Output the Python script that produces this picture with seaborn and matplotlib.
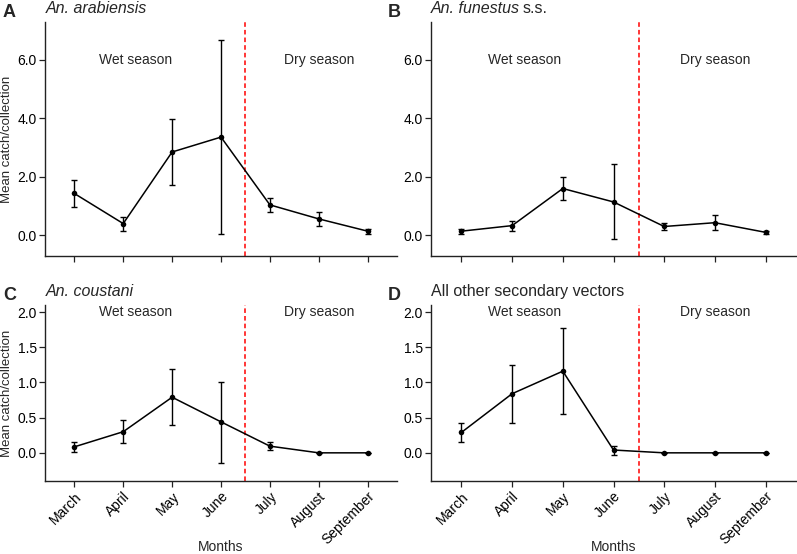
import matplotlib
matplotlib.use("Agg")
import matplotlib.pyplot as plt
import numpy as np
import pandas as pd
import seaborn as sns

months = ["March", "April", "May", "June", "July", "August", "September"]

arab_mean = [1.43, 0.40, 2.85, 3.36, 1.04, 0.56, 0.14]
arab_low = [0.97, 0.16, 1.71, 0.03, 0.78, 0.33, 0.05]
arab_high = [1.90, 0.63, 3.98, 6.67, 1.28, 0.80, 0.21]

fun_mean = [0.14, 0.33, 1.60, 1.14, 0.30, 0.43, 0.10]
fun_low = [0.05, 0.16, 1.20, -0.14, 0.18, 0.18, 0.03]
fun_high = [0.21, 0.50, 2.01, 2.43, 0.41, 0.71, 0.16]

cou_mean = [0.085, 0.30, 0.79, 0.44, 0.095, 0.0, 0.0]
cou_low = [0.014, 0.14, 0.39, -0.14, 0.04, 0.0, 0.0]
cou_high = [0.156, 0.47, 1.19, 1.01, 0.15, 0.0, 0.0]

oth_mean = [0.29, 0.84, 1.16, 0.04, 0.0, 0.0, 0.0]
oth_low = [0.15, 0.42, 0.55, -0.03, 0.0, 0.0, 0.0]
oth_high = [0.43, 1.25, 1.77, 0.10, 0.0, 0.0, 0.0]

panel_letters = ["A", "B", "C", "D"]
panel_titles = ["An. arabiensis", "An. funestus", "An. coustani", "All other secondary vectors"]
season_labels = ["Wet season", "Dry season"]
yticks_top = [0.0, 2.0, 4.0, 6.0]
yticks_bot = [0.0, 0.5, 1.0, 1.5, 2.0]

sns.set_style("ticks")
plt.rcParams["font.family"] = ["Liberation Sans", "DejaVu Sans"]

W, H = 797, 554
fig = plt.figure(figsize=(W / 100, H / 100), dpi=100)

def px_axes(left, top, right, bottom):
    return fig.add_axes([left / W, 1 - bottom / H, (right - left) / W, (bottom - top) / H])

axA = px_axes(45, 22, 397, 256)
axB = px_axes(431, 22, 796, 256)
axC = px_axes(45, 305, 397, 481)
axD = px_axes(431, 305, 796, 481)

series = [
    (axA, arab_mean, arab_low, arab_high, (-0.71, 7.3), yticks_top, 6.0),
    (axB, fun_mean, fun_low, fun_high, (-0.71, 7.3), yticks_top, 6.0),
    (axC, cou_mean, cou_low, cou_high, (-0.40, 2.10), yticks_bot, 2.0),
    (axD, oth_mean, oth_low, oth_high, (-0.40, 2.10), yticks_bot, 2.0),
]

for i, (ax, m, lo, hi, ylim, yt, ytext) in enumerate(series):
    df = pd.DataFrame({"pos": np.arange(len(months)), "month": months,
                       "mean": m, "low": lo, "high": hi})
    ax.errorbar(df["pos"], df["mean"],
                yerr=[df["mean"] - df["low"], df["high"] - df["mean"]],
                fmt="none", ecolor="black", elinewidth=1.0, capsize=2.0,
                capthick=1.0, zorder=2)
    sns.lineplot(data=df, x="pos", y="mean", ax=ax, color="black",
                 marker="o", markersize=4, markeredgewidth=0,
                 linewidth=1.1, zorder=3)
    ax.axvline(3.5, color="#ff0000", linestyle=(0, (3, 2)), linewidth=1.1, zorder=1)
    ax.text(1.25, ytext, season_labels[0], ha="center", va="center", fontsize=10)
    ax.text(5.0, ytext, season_labels[1], ha="center", va="center", fontsize=10)
    ax.set_xlim(-0.6, 6.6)
    ax.set_ylim(*ylim)
    ax.set_yticks(yt)
    ax.set_yticklabels([f"{v:.1f}" for v in yt])
    ax.set_xticks(np.arange(len(months)))
    if i >= 2:
        ax.set_xticklabels(months, rotation=45, ha="right", rotation_mode="anchor")
        ax.set_xlabel("Months", fontsize=10)
        ax.xaxis.set_label_coords(0.5, -0.335)
    else:
        ax.set_xticklabels([])
        ax.set_xlabel("")
    if i % 2 == 0:
        ax.set_ylabel("Mean catch/collection", fontsize=9.5)
        ax.yaxis.set_label_coords(-0.092, 0.5)
    else:
        ax.set_ylabel("")
    ax.tick_params(axis="both", labelsize=10, length=4, width=0.9,
                   color="#222222", labelcolor="black", pad=2)
    for s in ["top", "right"]:
        ax.spines[s].set_visible(False)
    for s in ["left", "bottom"]:
        ax.spines[s].set_color("#222222")
        ax.spines[s].set_linewidth(1.0)

# Panel letters and titles
fig.text(3 / W, 1 - 17 / H, panel_letters[0], fontsize=13, fontweight="bold", va="baseline")
fig.text(388 / W, 1 - 17 / H, panel_letters[1], fontsize=13, fontweight="bold", va="baseline")
fig.text(3 / W, 1 - 300 / H, panel_letters[2], fontsize=13, fontweight="bold", va="baseline")
fig.text(388 / W, 1 - 300 / H, panel_letters[3], fontsize=13, fontweight="bold", va="baseline")

fig.text(46 / W, 1 - 13 / H, panel_titles[0], fontsize=11.5, style="italic", va="baseline")
tB = fig.text(431 / W, 1 - 13 / H, panel_titles[1], fontsize=11.5, style="italic", va="baseline")
fig.canvas.draw()
bb = tB.get_window_extent()
fig.text(bb.x1 / W + 3 / W, 1 - 13 / H, "s.s.", fontsize=11.5, va="baseline")
fig.text(46 / W, 1 - 296 / H, panel_titles[2], fontsize=11.5, style="italic", va="baseline")
fig.text(431 / W, 1 - 296 / H, panel_titles[3], fontsize=11.5, va="baseline")

fig.savefig("out.png", dpi=100)
